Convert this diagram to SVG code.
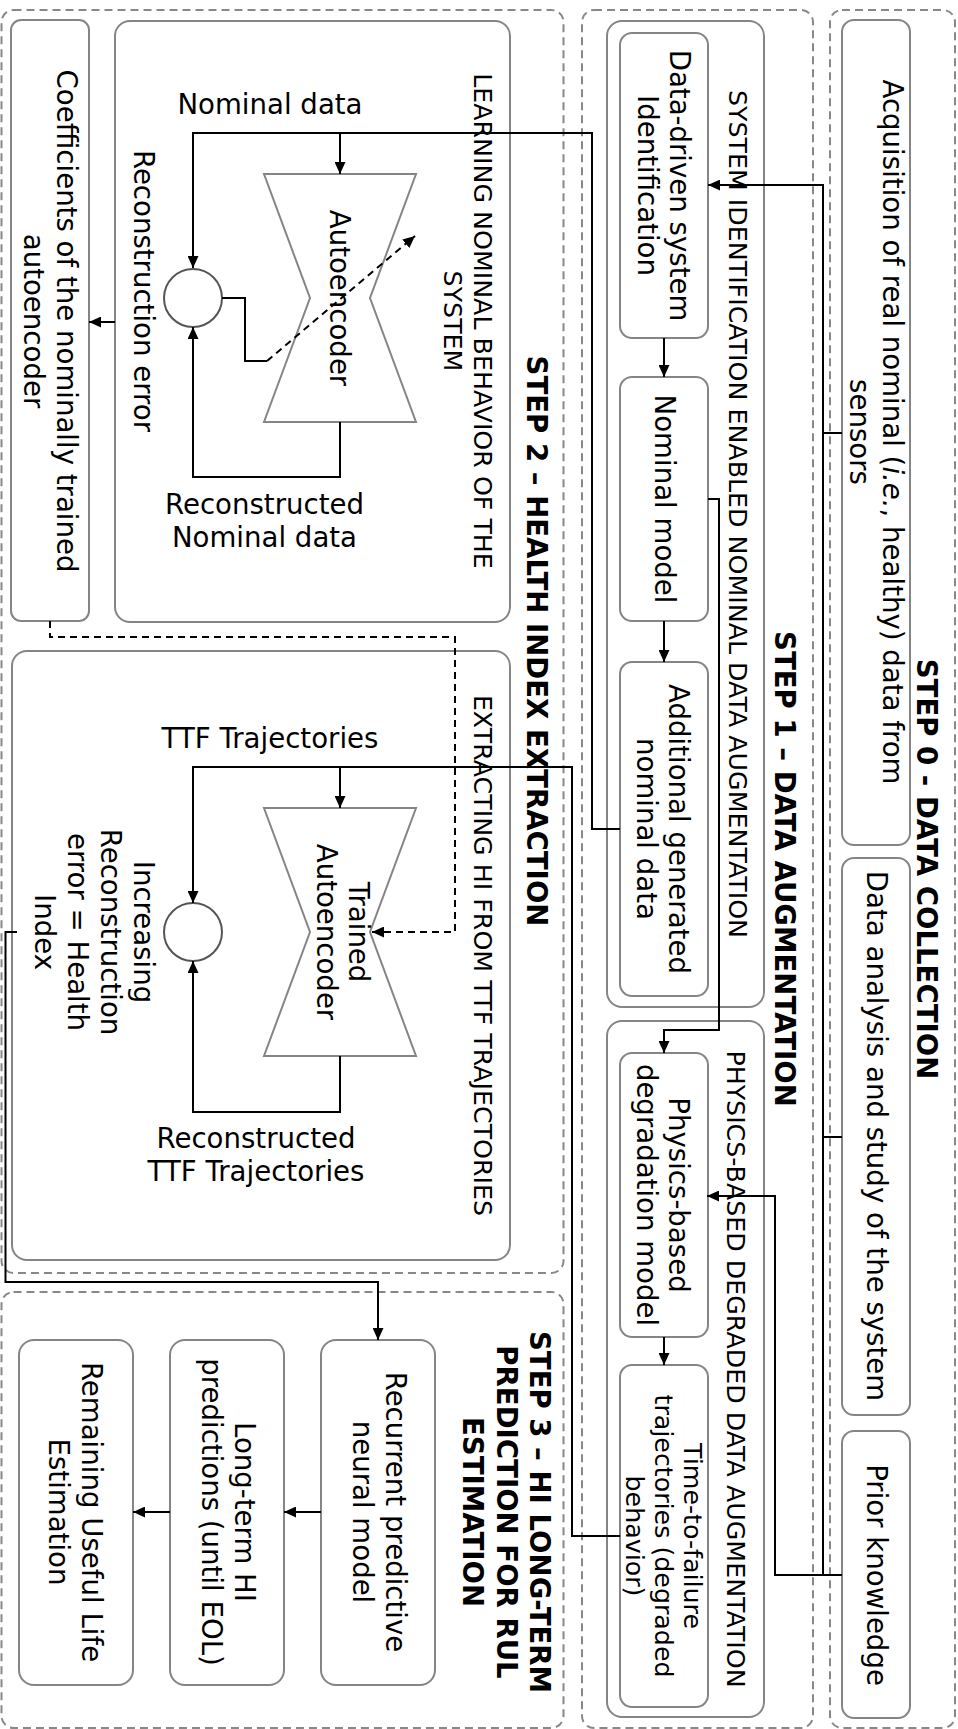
<svg xmlns="http://www.w3.org/2000/svg" width="958" height="1729" viewBox="0 0 958 1729">
<style>
text{font-family:"DejaVu Sans","Liberation Sans",sans-serif;fill:#000;}
.r{font-size:27.6px;text-anchor:middle;dominant-baseline:central;}
.h{font-size:27.6px;text-anchor:middle;}
.s{font-size:25.3px;text-anchor:middle;dominant-baseline:central;}
.b{font-size:27.6px;font-weight:bold;text-anchor:middle;dominant-baseline:central;}
.frame{fill:none;stroke:#888;stroke-width:2;stroke-dasharray:8 5;}
.grp{fill:#fff;stroke:#858585;stroke-width:2;}
.node{fill:#fff;stroke:#858585;stroke-width:2;}
.ae{fill:#fff;stroke:#858585;stroke-width:2;}
.cir{fill:#fff;stroke:#555;stroke-width:2;}
.c{fill:none;stroke:#000;stroke-width:2;}
.cd{fill:none;stroke:#000;stroke-width:2;stroke-dasharray:7 5;}
</style>
<defs>
<marker id="arr" markerWidth="12" markerHeight="11" refX="12" refY="5.5" orient="auto" markerUnits="userSpaceOnUse"><path d="M0,0 L12,5.5 L0,11 z" fill="#000"/></marker>
</defs>
<rect width="958" height="1729" fill="#fff"/>

<!-- frames -->
<g id="step0">
<rect class="frame" x="830" y="10" width="125" height="1718" rx="12"/>
<text class="b" transform="translate(926,869) rotate(90)">STEP 0 - DATA COLLECTION</text>
</g>
<g id="step1">
<rect class="frame" x="582" y="10" width="231" height="1718" rx="12"/>
<text class="b" transform="translate(784,869) rotate(90)">STEP 1 – DATA AUGMENTATION</text>
</g>
<g id="step2">
<rect class="frame" x="1.5" y="10" width="562" height="1263" rx="12"/>
<text class="b" transform="translate(536,641) rotate(90)">STEP 2 – HEALTH INDEX EXTRACTION</text>
</g>
<g id="step3">
<rect class="frame" x="1.5" y="1292" width="562" height="436" rx="12"/>
<text class="b" transform="translate(506.5,1512) rotate(90)"><tspan x="0" dy="-33.5">STEP 3 – HI LONG-TERM</tspan><tspan x="0" dy="33.5">PREDICTION FOR RUL</tspan><tspan x="0" dy="33.5">ESTIMATION</tspan></text>
</g>

<!-- group containers -->
<g id="sysid-group">
<rect class="grp" x="607" y="21" width="157" height="986" rx="15"/>
<text class="s" transform="translate(737,514) rotate(90)">SYSTEM IDENTIFICATION ENABLED NOMINAL DATA AUGMENTATION</text>
</g>
<g id="physics-group">
<rect class="grp" x="607" y="1021" width="157" height="696" rx="15"/>
<text class="s" transform="translate(735,1369) rotate(90)">PHYSICS-BASED DEGRADED DATA AUGMENTATION</text>
</g>
<g id="learning-group">
<rect class="grp" x="115" y="21" width="395" height="601" rx="15"/>
<text class="s" transform="translate(468,321) rotate(90)"><tspan x="0" dy="-15">LEARNING NOMINAL BEHAVIOR OF THE</tspan><tspan x="0" dy="30">SYSTEM</tspan></text>
</g>
<g id="extract-group">
<rect class="grp" x="12" y="651" width="498" height="609" rx="15"/>
<text class="s" transform="translate(482,955.5) rotate(90)">EXTRACTING HI FROM TTF TRAJECTORIES</text>
</g>

<!-- Step 0 nodes -->
<g id="acquisition">
<rect class="node" x="842" y="20" width="68" height="825" rx="12"/>
<text class="r" transform="translate(876,432) rotate(90)"><tspan x="0" dy="-16.5">Acquisition of real nominal (<tspan font-style="italic">i.e.</tspan>, healthy) data from</tspan><tspan x="0" dy="33">sensors</tspan></text>
</g>
<g id="data-analysis">
<rect class="node" x="842" y="858" width="68" height="557" rx="12"/>
<text class="r" transform="translate(876,1136) rotate(90)">Data analysis and study of the system</text>
</g>
<g id="prior">
<rect class="node" x="842" y="1431" width="68" height="287" rx="12"/>
<text class="r" transform="translate(876,1575) rotate(90)">Prior knowledge</text>
</g>

<!-- Step 1 nodes -->
<g id="data-driven">
<rect class="node" x="620" y="33" width="88" height="305" rx="12"/>
<text class="r" transform="translate(664,185.5) rotate(90)"><tspan x="0" dy="-16">Data-driven system</tspan><tspan x="0" dy="32">Identification</tspan></text>
</g>
<g id="nominal-model">
<rect class="node" x="620" y="377" width="88" height="244" rx="12"/>
<text class="r" transform="translate(664,499) rotate(90)">Nominal model</text>
</g>
<g id="additional">
<rect class="node" x="620" y="662" width="88" height="334" rx="12"/>
<text class="r" transform="translate(663,829) rotate(90)"><tspan x="0" dy="-16">Additional generated</tspan><tspan x="0" dy="32">nominal data</tspan></text>
</g>
<g id="physics-model">
<rect class="node" x="620" y="1053" width="88" height="284" rx="12"/>
<text class="r" transform="translate(663,1195) rotate(90)"><tspan x="0" dy="-16">Physics-based</tspan><tspan x="0" dy="32">degradation model</tspan></text>
</g>
<g id="ttf">
<rect class="node" x="620" y="1365" width="88" height="342" rx="12"/>
<text class="s" transform="translate(663.5,1536) rotate(90)"><tspan x="0" dy="-29">Time-to-failure</tspan><tspan x="0" dy="29">trajectories (degraded</tspan><tspan x="0" dy="29">behavior)</tspan></text>
</g>

<!-- Step 2 nodes -->
<g id="coefficients">
<rect class="node" x="11" y="20" width="78" height="601" rx="10"/>
<text class="r" transform="translate(50,321) rotate(90)"><tspan x="0" dy="-16.5">Coefficients of the nominally trained</tspan><tspan x="0" dy="33">autoencoder</tspan></text>
</g>
<g id="autoencoder">
<polygon class="ae" points="264,174 416,174 370,298 416,422 264,422 310,298"/>
<text class="r" transform="translate(339,298) rotate(90)">Autoencoder</text>
</g>
<g id="comparator1">
<circle class="cir" cx="193" cy="298" r="29"/>
</g>
<g id="labels-learning">
<text class="h" x="270" y="114">Nominal data</text>
<text class="r" transform="translate(143,291) rotate(90)">Reconstruction error</text>
<text class="h" x="264.5" y="514">Reconstructed</text>
<text class="h" x="264.5" y="547">Nominal data</text>
</g>
<g id="trained-autoencoder">
<polygon class="ae" points="264,808 416,808 370,932 416,1056 264,1056 310,932"/>
<text class="r" transform="translate(343,932) rotate(90)"><tspan x="0" dy="-16">Trained</tspan><tspan x="0" dy="32">Autoencoder</tspan></text>
</g>
<g id="comparator2">
<circle class="cir" cx="193" cy="932" r="29"/>
</g>
<g id="labels-extract">
<text class="h" x="270" y="748">TTF Trajectories</text>
<text class="h" x="256" y="1148">Reconstructed</text>
<text class="h" x="256" y="1181">TTF Trajectories</text>
<text class="r" transform="translate(94.5,932) rotate(90)"><tspan x="0" dy="-49.5">Increasing</tspan><tspan x="0" dy="33">Reconstruction</tspan><tspan x="0" dy="33">error = Health</tspan><tspan x="0" dy="33">Index</tspan></text>
</g>

<!-- Step 3 nodes -->
<g id="recurrent">
<rect class="node" x="321" y="1340" width="114" height="345" rx="15"/>
<text class="r" transform="translate(379,1512) rotate(90)"><tspan x="0" dy="-16.5">Recurrent predictive</tspan><tspan x="0" dy="33">neural model</tspan></text>
</g>
<g id="long-term">
<rect class="node" x="170" y="1340" width="114" height="345" rx="15"/>
<text class="r" transform="translate(228,1512) rotate(90)"><tspan x="0" dy="-16.5">Long-term HI</tspan><tspan x="0" dy="33">predictions (until EOL)</tspan></text>
</g>
<g id="rul">
<rect class="node" x="19" y="1340" width="114" height="345" rx="15"/>
<text class="r" transform="translate(75,1512) rotate(90)"><tspan x="0" dy="-16.5">Remaining Useful Life</tspan><tspan x="0" dy="33">Estimation</tspan></text>
</g>

<!-- connectors -->
<g id="connectors">
<path class="c" d="M842,433 H823 V185 H708" marker-end="url(#arr)"/>
<path class="c" d="M842,1137 H823 V185"/>
<path class="c" d="M842,1575 H823 V1137"/>
<path class="c" d="M842,1575 H775 V1196 H707" marker-end="url(#arr)"/>
<path class="c" d="M664,338 V377" marker-end="url(#arr)"/>
<path class="c" d="M664,621 V662" marker-end="url(#arr)"/>
<path class="c" d="M708,499 H719 V1030 H664 V1053" marker-end="url(#arr)"/>
<path class="c" d="M664,1337 V1365" marker-end="url(#arr)"/>
<path class="c" d="M620,829 H592 V133 H193 V268" marker-end="url(#arr)"/>
<path class="c" d="M340,133 V174" marker-end="url(#arr)"/>
<path class="c" d="M340,422 V477 H193 V327" marker-end="url(#arr)"/>
<path class="c" d="M222,298 H245 V361 H267"/>
<path class="cd" d="M267,361 L415,236" marker-end="url(#arr)"/>
<path class="c" d="M115,322 H89" marker-end="url(#arr)"/>
<path class="cd" d="M50,621 V637 H455 V932 H372" marker-end="url(#arr)"/>
<path class="c" d="M620,1536 H572 V767 H193 V903" marker-end="url(#arr)"/>
<path class="c" d="M340,767 V808" marker-end="url(#arr)"/>
<path class="c" d="M340,1056 V1112 H193 V961" marker-end="url(#arr)"/>
<path class="c" d="M17,932 H5.5 V1282 H378 V1340" marker-end="url(#arr)"/>
<path class="c" d="M321,1512 H284" marker-end="url(#arr)"/>
<path class="c" d="M170,1512 H133" marker-end="url(#arr)"/>
</g>
</svg>
